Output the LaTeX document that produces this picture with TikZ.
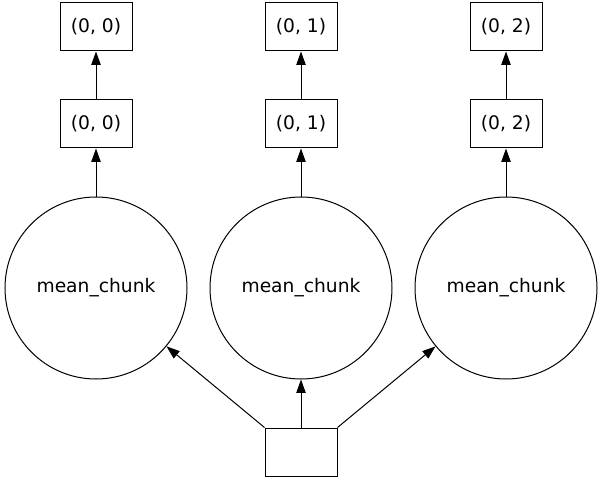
\documentclass[tikz,border=0pt]{standalone}
\usepackage{fontspec}
\setmainfont{DejaVu Sans}
\usetikzlibrary{arrows.meta, positioning}

\begin{document}
\begin{tikzpicture}[
    x=0.75pt, y=-0.75pt,
    chunk/.style={rectangle, draw=black, line width=0.75pt, minimum width=54pt, minimum height=36pt, inner sep=0pt, font=\fontsize{14}{16}\selectfont},
    task/.style={circle, draw=black, line width=0.75pt, minimum size=136.5pt, inner sep=0pt, font=\fontsize{14}{16}\selectfont},
    arrow/.style={-{Triangle[length=10pt, width=7pt]}, line width=0.75pt}
]
\useasboundingbox (0,0) rectangle (603,481);

% ==== mean_chunk tasks ====
\node[task] (mean0) at (96,288) {mean\_chunk};
\node[task] (mean1) at (301,288) {mean\_chunk};
\node[task] (mean2) at (506,288) {mean\_chunk};

% ==== Source ====
\node[chunk, below=36pt of mean1] (source) {};

% ==== Chunks ====
\node[chunk, above=36pt of mean0] (mid0) {(0, 0)};
\node[chunk, above=36pt of mean1] (mid1) {(0, 1)};
\node[chunk, above=36pt of mean2] (mid2) {(0, 2)};
\node[chunk, above=36pt of mid0] (top0) {(0, 0)};
\node[chunk, above=36pt of mid1] (top1) {(0, 1)};
\node[chunk, above=36pt of mid2] (top2) {(0, 2)};

% ==== Relations ====
\draw[arrow] (source.north west) -- (mean0);
\draw[arrow] (source) -- (mean1);
\draw[arrow] (source.north east) -- (mean2);
\draw[arrow] (mean0) -- (mid0);
\draw[arrow] (mean1) -- (mid1);
\draw[arrow] (mean2) -- (mid2);
\draw[arrow] (mid0) -- (top0);
\draw[arrow] (mid1) -- (top1);
\draw[arrow] (mid2) -- (top2);

\end{tikzpicture}
\end{document}
